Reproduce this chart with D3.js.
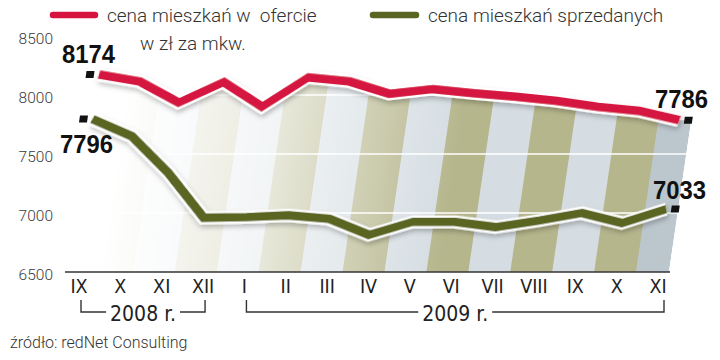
<!DOCTYPE html>
<html><head><meta charset="utf-8">
<script src="https://cdn.jsdelivr.net/npm/d3@7"></script>
<style>
html,body{margin:0;padding:0;background:#fff;}
svg{display:block;}
text{white-space:pre;}
</style></head>
<body>
<svg id="c" width="720" height="360"></svg>
<script>
// ---- data ----
const months = ["IX","X","XI","XII","I","II","III","IV","V","VI","VII","VIII","IX","X","XI"];
const offerPrices = [8174, 8115, 7935, 8110, 7900, 8150, 8115, 8010, 8050, 8015, 7985, 7950, 7900, 7865, 7786];
const soldPrices  = [7796, 7650, 7340, 6960, 6965, 6980, 6950, 6815, 6925, 6925, 6880, 6935, 7000, 6915, 7033];
const yTicks = [6500, 7000, 7500, 8000, 8500];
const yearGroups = [
  {label: "2008 r.", from: 0, to: 3},
  {label: "2009 r.", from: 4, to: 14}
];
const seriesNames = ["cena mieszkań w  ofercie", "cena mieszkań sprzedanych"];
const unitLabel = "w zł za mkw.";
const sourceLabel = "źródło: redNet Consulting";

// ---- setup ----
const svg = d3.select("#c");
const idx = d3.range(months.length);
const baseY = 272;
const x = d3.scalePoint().domain(idx).range([70, 657]);
const xLab = d3.scalePoint().domain(idx).range([79, 658]);
const y = d3.scaleLinear().domain([6500, 8500]).range([baseY, 36]);
const step = x.step();
const skewA = -Math.atan(0.147) * 180 / Math.PI;
const RED = "#d5153f", GREEN = "#5a6521";

const defs = svg.append("defs");
const f = defs.append("filter").attr("id","sh").attr("x","-10%").attr("y","-30%").attr("width","120%").attr("height","160%");
f.append("feDropShadow").attr("dx",1.5).attr("dy",3).attr("stdDeviation",2.4).attr("flood-color","#000").attr("flood-opacity",0.25);

const g = defs.append("linearGradient").attr("id","fade").attr("gradientUnits","userSpaceOnUse")
  .attr("x1",100).attr("x2",440).attr("y1",0).attr("y2",0);
g.append("stop").attr("offset","0").attr("stop-color","#fff").attr("stop-opacity",0);
g.append("stop").attr("offset","0.45").attr("stop-color","#fff").attr("stop-opacity",0.3);
g.append("stop").attr("offset","1").attr("stop-color","#fff").attr("stop-opacity",1);
const mask = defs.append("mask").attr("id","m").attr("maskUnits","userSpaceOnUse")
  .attr("x",0).attr("y",0).attr("width",720).attr("height",360);
mask.append("rect").attr("x",0).attr("y",0).attr("width",720).attr("height",360).attr("fill","url(#fade)");

// area under red line (clip)
const lastX = x(idx.length - 1) + 12;
const clipPts = [[x(0) - step/2, baseY], [x(0) - step/2, y(offerPrices[0])]]
  .concat(idx.map(i => [x(i), y(offerPrices[i])]))
  .concat([[lastX, y(offerPrices[idx.length-1])], [lastX, baseY]]);
defs.append("clipPath").attr("id","cp").append("path")
  .attr("d", d3.line()(clipPts) + "Z");

const plot = svg.append("g")
  .attr("transform", `translate(0,${baseY}) skewX(${skewA}) translate(0,${-baseY})`);

// stripes
const stripes = plot.append("g").attr("clip-path","url(#cp)");
const stripeInner = stripes.append("g").attr("mask","url(#m)");
stripeInner.selectAll("rect").data(idx).join("rect")
  .attr("x", i => x(i) - step/2)
  .attr("width", i => (i === idx.length-1) ? (lastX - (x(i) - step/2)) : step + 0.5)
  .attr("y", y(8500))
  .attr("height", baseY - y(8500))
  .attr("fill", i => i === idx.length-1 ? "#bcc7cd" : (i % 2 ? "#b6b68d" : "#d5dde2"));

// gridlines (white)
plot.append("g").selectAll("line").data(yTicks.filter(v => v > 6500)).join("line")
  .attr("x1", x(0) - step/2).attr("x2", lastX)
  .attr("y1", d => y(d)).attr("y2", d => y(d))
  .attr("stroke", "#fff").attr("stroke-width", 1.6);

// lines
function drawSeries(vals, color) {
  const lg = d3.line().x(i => x(i)).y(i => y(vals[i]));
  const gg = plot.append("g").attr("filter","url(#sh)");
  gg.append("path").attr("d", lg(idx)).attr("fill","none")
    .attr("stroke","#fff").attr("stroke-width",13).attr("stroke-linejoin","miter").attr("stroke-linecap","butt");
  gg.append("path").attr("d", lg(idx)).attr("fill","none")
    .attr("stroke",color).attr("stroke-width",8.5).attr("stroke-linejoin","miter").attr("stroke-linecap","butt");
  const ends = [0, idx.length-1];
  plot.selectAll(null).data(ends).join("rect")
    .attr("x", i => x(i) + (i === 0 ? -13 : 5))
    .attr("y", i => y(vals[i]) - 3.5)
    .attr("width", 8).attr("height", 7)
    .attr("fill", "#111");
}
drawSeries(soldPrices, GREEN);
drawSeries(offerPrices, RED);

// axis baseline
svg.append("line").attr("x1",65).attr("x2",670).attr("y1",baseY).attr("y2",baseY)
  .attr("stroke","#333").attr("stroke-width",1.5);

// y tick labels
svg.append("g").selectAll("text").data(yTicks).join("text")
  .attr("x", 53).attr("y", d => y(d) + 4)
  .attr("text-anchor","end").attr("dominant-baseline","middle")
  .attr("font-family","Roboto, 'Liberation Sans', sans-serif").attr("font-weight",300)
  .attr("font-size",15.5).attr("fill","#3a3a3a")
  .text(d => d);

// x month labels
svg.append("g").selectAll("text").data(idx).join("text")
  .attr("x", i => xLab(i)).attr("y", 293)
  .attr("text-anchor","middle")
  .attr("font-family","'Liberation Sans Narrow', 'DejaVu Sans Condensed', sans-serif")
  .attr("font-size",19.5).attr("fill","#222")
  .text(i => months[i]);

// year brackets
const yb = svg.append("g");
yearGroups.forEach(gp => {
  const x1 = xLab(gp.from) + 2, x2 = xLab(gp.to) + (gp.to === idx.length-1 ? 6 : 2);
  const cx = (x1 + x2) / 2;
  const t = yb.append("text").attr("x", cx).attr("y", 321).attr("text-anchor","middle")
    .attr("font-family","'Liberation Sans Narrow', 'DejaVu Sans Condensed', sans-serif")
    .attr("font-size",21).attr("fill","#222").text(gp.label);
  const w = t.node().getComputedTextLength();
  const gap = 4;
  yb.append("path").attr("fill","none").attr("stroke","#333").attr("stroke-width",1.4)
    .attr("d", `M${x1},300V312H${cx - w/2 - gap}M${cx + w/2 + gap},312H${x2}V300`);
});

// value labels
const vfont = "'Liberation Sans', Arial, sans-serif";
const valueLabels = [
  {v: offerPrices[0], x: 62, y: 63},
  {v: soldPrices[0], x: 60, y: 153},
  {v: offerPrices[offerPrices.length-1], x: 655, y: 108},
  {v: soldPrices[soldPrices.length-1], x: 653, y: 199}
];
svg.append("g").selectAll("text").data(valueLabels).join("text")
  .attr("x", d => d.x).attr("y", d => d.y)
  .attr("font-family", vfont).attr("font-weight","bold").attr("font-size",25)
  .attr("fill","#111").attr("textLength",53).attr("lengthAdjust","spacingAndGlyphs")
  .text(d => d.v);

// legend
const lf = "Roboto, 'Liberation Sans', sans-serif";
const leg = svg.append("g");
const legItems = [
  {name: seriesNames[0], color: RED, x1: 53, x2: 95, tx: 107},
  {name: seriesNames[1], color: GREEN, x1: 373, x2: 416, tx: 428}
];
legItems.forEach(d => {
  leg.append("line").attr("x1", d.x1).attr("x2", d.x2).attr("y1", 15).attr("y2", 15)
    .attr("stroke", d.color).attr("stroke-width", 6.5).attr("stroke-linecap","round");
  leg.append("text").attr("x", d.tx).attr("y", 21.5)
    .attr("font-family", lf).attr("font-weight",300).attr("font-size",19).attr("fill","#333")
    .text(d.name);
});
leg.append("text").attr("x", 140).attr("y", 50)
  .attr("font-family", lf).attr("font-weight",300).attr("font-size",19).attr("fill","#333")
  .text(unitLabel);

// source
svg.append("text").attr("x", 10).attr("y", 348)
  .attr("font-family", lf).attr("font-weight",300).attr("font-size",16).attr("fill","#333")
  .text(sourceLabel);
</script>
</body></html>
